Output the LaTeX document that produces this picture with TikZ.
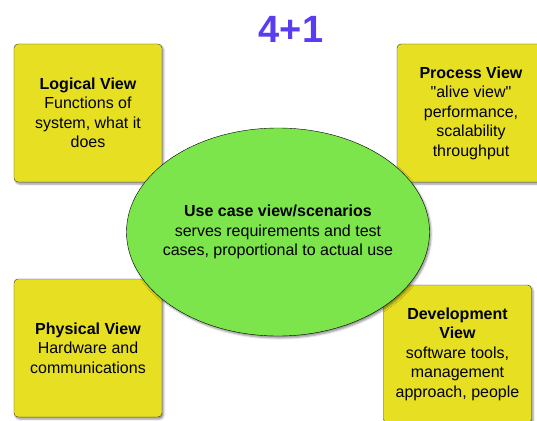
\documentclass[tikz,border=0pt]{standalone}
\usepackage{fontspec}
\setmainfont{Liberation Sans}[Ligatures=TeXOff]
\usepackage{tikz}
\usetikzlibrary{shapes.geometric,shadows.blur}

\definecolor{viewyellow}{RGB}{231,224,34}
\definecolor{casegreen}{RGB}{123,229,75}
\definecolor{titleblue}{RGB}{88,62,240}

\begin{document}
\begin{tikzpicture}[x=1pt,y=-1pt,
    view/.style={draw=black!80,fill=viewyellow,rounded corners=4pt,%
      minimum width=148pt,minimum height=138pt,inner sep=0pt,align=center,%
      font=\fontsize{16}{19.5}\selectfont,%
      blur shadow={shadow xshift=1.5pt,shadow yshift=-2pt,shadow blur radius=2pt,shadow opacity=45}},
    usecase/.style={draw=black,fill=casegreen,ellipse,inner sep=0pt,%
      minimum width=303pt,minimum height=208pt,%
      blur shadow={shadow xshift=1.5pt,shadow yshift=-2pt,shadow blur radius=2pt,shadow opacity=45}}]
          \useasboundingbox (0,0) rectangle (537,420);
          \clip (0,0) rectangle (537,420);
          \draw node[font=\bfseries\fontsize{38}{38}\selectfont,%
            text=titleblue] (T) at (291,29) {4+1};
          % the four views
          \draw node[view] (V1) at (88,113)
          {\textbf{Logical View}\\Functions of\\system, what it\\does};
          \draw node[view] (V2) at (471,113)
          {\textbf{Process View}\\"alive view"\\performance,\\scalability\\throughput};
          \draw node[view] (V3) at (88,348)
          {\textbf{Physical View}\\Hardware and\\communications};
          \draw node[view] (V4) at (457.5,354)
          {\textbf{Development}\\\textbf{View}\\software tools,\\management\\approach, people};
          % the +1
          \draw node[usecase] (U) at (278,232) {};
          \draw node[align=center,font=\fontsize{16}{19.5}\selectfont] (UT) %
          at (U.center) {\textbf{Use case view/scenarios}\\serves requirements and test\\cases, proportional to actual use};
        \end{tikzpicture}
\end{document}
